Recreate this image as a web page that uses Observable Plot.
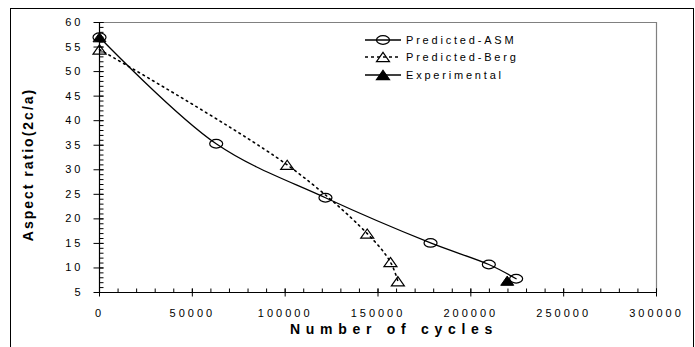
<!DOCTYPE html>
<html>
<head>
<meta charset="utf-8">
<script src="https://cdn.jsdelivr.net/npm/d3@7"></script>
<script src="https://cdn.jsdelivr.net/npm/@observablehq/plot@0.6"></script>
<style>
  body { margin: 0; background: #fff; }
  #wrap { position: relative; width: 695px; height: 347px; overflow: hidden; background: #fff;
          font-family: "Liberation Sans", Arial, sans-serif; }
  #border { position: absolute; left: 10px; top: 8px; width: 684px; height: 400px;
            border: 1px solid #000; box-sizing: border-box; pointer-events: none; }
  #chart { position: absolute; left: 0; top: 0; }
  #legend { position: absolute; left: 365px; top: 31px; font-size: 11px; letter-spacing: 2.8px; color: #000; }
  #legend .row { display: flex; align-items: center; height: 17.5px; }
  #legend svg { display: block; margin-right: 5px; }
</style>
</head>
<body>
<div id="wrap">
  <div id="chart"></div>
  <div id="border"></div>
  <div id="legend"></div>
</div>
<script>
// ---- data ----
const asmCycles = [0, 62850, 121700, 178300, 209700, 224400];
const asmRatio  = [57.0, 35.3, 24.3, 15.1, 10.7, 7.8];
const bergCycles = [0, 101100, 144200, 156700, 160700];
const bergRatio  = [54.5, 31.0, 17.0, 11.2, 7.3];
const expCycles = [0, 219600];
const expRatio  = [57.0, 7.4];
const xTicks = [0, 50000, 100000, 150000, 200000, 250000, 300000];
const yTicks = [5, 10, 15, 20, 25, 30, 35, 40, 45, 50, 55, 60];
const seriesNames = ["Predicted-ASM", "Predicted-Berg", "Experimental"];
const xTitle = "Number of cycles";
const yTitle = "Aspect ratio(2c/a)";

const asm = asmCycles.map((c, i) => ({cycles: c, ratio: asmRatio[i]}));
const berg = bergCycles.map((c, i) => ({cycles: c, ratio: bergRatio[i]}));
const exp = expCycles.map((c, i) => ({cycles: c, ratio: expRatio[i]}));
const xMinor = d3.range(0, 300001, 10000);
const yMinor = d3.range(5, 61, 1);

// ---- custom marker symbols ----
const K = 0.5523;
function ellipsePath(ctx, rx, ry) {
  ctx.moveTo(rx, 0);
  ctx.bezierCurveTo(rx, ry * K, rx * K, ry, 0, ry);
  ctx.bezierCurveTo(-rx * K, ry, -rx, ry * K, -rx, 0);
  ctx.bezierCurveTo(-rx, -ry * K, -rx * K, -ry, 0, -ry);
  ctx.bezierCurveTo(rx * K, -ry, rx, -ry * K, rx, 0);
  ctx.closePath();
}
const ellipseSym = {draw(ctx) { ellipsePath(ctx, 6.5, 4.3); }};
const triSym = {draw(ctx) { ctx.moveTo(0, -4.6); ctx.lineTo(6.5, 4.6); ctx.lineTo(-6.5, 4.6); ctx.closePath(); }};
const vCross = {draw(ctx) { ctx.moveTo(0, -4); ctx.lineTo(0, 4); }};
const vUp = {draw(ctx) { ctx.moveTo(0, -4); ctx.lineTo(0, 0); }};
const hCross = {draw(ctx) { ctx.moveTo(-6, 0); ctx.lineTo(4, 0); }};
const hRight = {draw(ctx) { ctx.moveTo(0, 0); ctx.lineTo(4, 0); }};

const chart = Plot.plot({
  width: 695,
  height: 347,
  marginLeft: 99,
  marginRight: 39,
  marginTop: 22,
  marginBottom: 55,
  style: {fontFamily: '"Liberation Sans", Arial, sans-serif', fontSize: "11px", color: "#000", background: "transparent"},
  x: {domain: [0, 300000], axis: null},
  y: {domain: [5, 60], axis: null},
  marks: [
    Plot.ruleY([60], {stroke: "#808080", strokeWidth: 1.2}),
    Plot.ruleX([300000], {stroke: "#808080", strokeWidth: 1.2}),
    Plot.ruleX([0], {stroke: "#000", strokeWidth: 1.2}),
    Plot.ruleY([5], {stroke: "#000", strokeWidth: 1.2}),
    Plot.dot(xMinor, {x: d => d, y: () => 5, symbol: vUp, r: 3, fill: "none", stroke: "#000", strokeWidth: 1}),
    Plot.dot(xTicks, {x: d => d, y: () => 5, symbol: vCross, r: 3, fill: "none", stroke: "#000", strokeWidth: 1}),
    Plot.dot(yMinor, {x: () => 0, y: d => d, symbol: hRight, r: 3, fill: "none", stroke: "#000", strokeWidth: 1}),
    Plot.dot(yTicks, {x: () => 0, y: d => d, symbol: hCross, r: 3, fill: "none", stroke: "#000", strokeWidth: 1}),
    Plot.axisX({ticks: xTicks, tickSize: 0, tickPadding: 17, tickFormat: d3.format("d"), label: null}),
    Plot.axisY({ticks: yTicks, tickSize: 0, tickPadding: 16, tickFormat: d3.format("d"), label: null}),
    Plot.line(asm, {x: "cycles", y: "ratio", curve: "catmull-rom", stroke: "#000", strokeWidth: 1.3}),
    Plot.line(berg, {x: "cycles", y: "ratio", curve: "catmull-rom", stroke: "#000", strokeWidth: 1.6, strokeDasharray: "1.6,4"}),
    Plot.dot(asm, {x: "cycles", y: "ratio", symbol: ellipseSym, r: 4, fill: "none", stroke: "#000", strokeWidth: 1.2}),
    Plot.dot(berg, {x: "cycles", y: "ratio", symbol: triSym, r: 4, fill: "none", stroke: "#000", strokeWidth: 1.2}),
    Plot.dot(exp, {x: "cycles", y: "ratio", symbol: triSym, r: 4, fill: "#000", stroke: "#000", strokeWidth: 1}),
    Plot.text([xTitle], {text: d => d, frameAnchor: "bottom", textAnchor: "middle", dy: 41, dx: 16, fontWeight: "bold", fontSize: 14}),
    Plot.text([yTitle], {text: d => d, frameAnchor: "left", textAnchor: "middle", dx: -71, dy: 7, rotate: -90, fontWeight: "bold", fontSize: 14})
  ]
});
document.getElementById("chart").appendChild(chart);
const allText = d3.select(chart).selectAll("text");
allText.style("letter-spacing", "3px");
allText.filter(function() { return this.textContent === xTitle; }).style("letter-spacing", "5.7px");
allText.filter(function() { return this.textContent === yTitle; }).style("letter-spacing", "2px");

// ---- legend (inside the plot area, as in the reference) ----
const legend = d3.select("#legend");
const styles = [
  {dash: null, sym: "ellipse", fill: "none"},
  {dash: "3,3", sym: "tri", fill: "none"},
  {dash: null, sym: "tri", fill: "#000"}
];
seriesNames.forEach((name, i) => {
  const st = styles[i];
  const row = legend.append("div").attr("class", "row");
  const svg = row.append("svg").attr("width", 36).attr("height", 12);
  svg.append("line").attr("x1", 0).attr("x2", 36).attr("y1", 6).attr("y2", 6)
    .attr("stroke", "#000").attr("stroke-width", st.dash ? 1.6 : 1.3)
    .attr("stroke-dasharray", st.dash);
  const p = d3.path();
  if (st.sym === "ellipse") ellipsePath(p, 6.5, 4.3);
  else triSym.draw(p);
  svg.append("path").attr("d", p.toString()).attr("transform", "translate(18,6)")
    .attr("fill", st.fill === "none" ? "#fff" : st.fill).attr("fill-opacity", st.fill === "none" ? 0 : 1)
    .attr("stroke", "#000").attr("stroke-width", 1.2);
  row.append("span").text(name);
});
</script>
</body>
</html>
